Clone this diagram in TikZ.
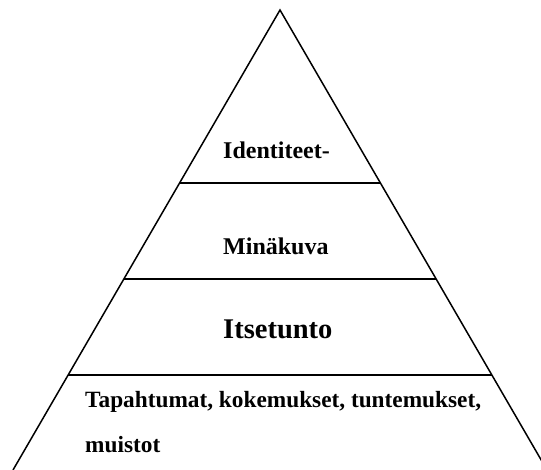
\documentclass[tikz,border=0pt]{standalone}
\usepackage{fontspec}
\setmainfont{Liberation Serif}
\usetikzlibrary{calc}
\tikzset{
  edge/.style={line width=1.5pt, black},
  band/.style={line width=1.8pt, black},
  label/.style={anchor=base west, inner sep=0pt, font=\bfseries\fontsize{24}{28}\selectfont},
  biglabel/.style={anchor=base west, inner sep=0pt, font=\bfseries\fontsize{28.5}{32}\selectfont}
}
\begin{document}
\begin{tikzpicture}[x=1pt,y=-1pt]
  \useasboundingbox (0,0) rectangle (541,470);
  \clip (0,0) rectangle (541,470);
  % pyramid outline
  \coordinate (apex) at (280,10);
  \coordinate (bl) at (13,470);
  \coordinate (br) at (547,470);
  \draw[edge] (bl) -- (apex) -- (br);
  % band dividers, ending on the sloping sides
  \foreach \n/\yy in {one/183, two/279, three/375} {
    \coordinate (\n L) at ($(apex)!{(\yy-10)/460}!(bl)$);
    \coordinate (\n R) at ($(apex)!{(\yy-10)/460}!(br)$);
  }
  \draw[band] (oneL) -- (oneR);
  \draw[band] (twoL) -- (twoR);
  \draw[band] (threeL) -- (threeR);
  % band labels
  \node[label] (ident) at (223,159) {Identiteet-};
  \node[label] (mina) at (223,255) {Minäkuva};
  \node[biglabel] (itse) at (223,338) {Itsetunto};
  \node[label, font=\bfseries\fontsize{23.3}{28}\selectfont] (tapa) at (85,407) {Tapahtumat, kokemukset, tuntemukset,};
  \node[label, font=\bfseries\fontsize{23.3}{28}\selectfont] (muis) at (85,452) {muistot};
\end{tikzpicture}
\end{document}
